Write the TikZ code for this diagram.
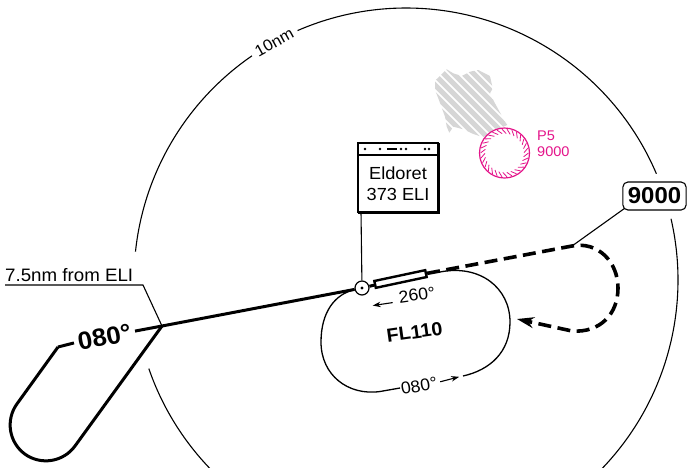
\documentclass[tikz,border=0pt]{standalone}
\usepackage{fontspec}
\setmainfont{Liberation Sans}[FakeStretch=1.04]
\usepackage{tikz}
\usetikzlibrary{arrows.meta, positioning, calc}
\definecolor{prohib}{RGB}{228,20,138}
\definecolor{hatchgray}{RGB}{214,214,214}
\newcommand{\fs}[2]{\fontsize{#1}{#2}\selectfont}

\begin{document}
\begin{tikzpicture}[x=1pt, y=-1pt,
    thinline/.style={line width=1.1pt},
    track/.style={line width=3pt, line join=round},
    holdpath/.style={line width=1.3pt},
    outbound/.style={line width=3.6pt, dash pattern=on 13pt off 6.5pt},
    dirarrow/.style={line width=1.1pt, -{Stealth[length=8pt, width=5.5pt]}},
    lbl/.style={inner sep=0pt, font=\fs{17}{17}}
]
\useasboundingbox (0,0) rectangle (688,467);
\clip (0,0) rectangle (688,467);

% 10nm ring
\coordinate (ctr) at (406,280);
\draw[thinline] (ctr) ++(44:272) arc[start angle=44, end angle=-13, radius=272];
\draw[thinline] (ctr) ++(-23:272) arc[start angle=-23, end angle=-113.5, radius=272];
\draw[thinline] (ctr) ++(-124.5:272) arc[start angle=-124.5, end angle=-174, radius=272];
\draw[thinline] (ctr) ++(-199:272) arc[start angle=-199, end angle=-226, radius=272];
\node[lbl, font=\fs{16}{16}, rotate=29] (ringlbl) at ($(ctr)+(-119:272)$) {10nm};

% hatched area
\begin{scope}
    \clip (435,80.7) -- (446.7,69.3) -- (453.3,73.3) -- (461.7,76) -- (470,71.7)
        -- (478.3,70) -- (490,76) -- (492.7,88.3) -- (490,93.3) -- (495,103.3)
        -- (505,121.7) -- (507.3,125) -- (491.7,131.7) -- (483.3,137.3)
        -- (473.3,134) -- (463.3,129.3) -- (453.3,126.7) -- (449.3,132.7)
        -- (446.7,126.7) -- (445,116.7) -- (438.3,98.3) -- (435,90) -- cycle;
    \foreach \k in {-130,-120,...,110}
        \draw[line width=5pt, hatchgray] (420+\k,60) -- (520+\k,160);
\end{scope}

% prohibited area P5
\node[circle, draw=prohib, line width=1.2pt, fill=white, minimum size=50pt, inner sep=0pt] (p5) at (504.5,153) {};
\foreach \a in {0,12,...,348}
    \draw[prohib, line width=0.8pt] ($(p5.center)+(\a:24)$) -- ($(p5.center)+(\a+11:19.5)$);
\node[anchor=north west, align=left, text=prohib, font=\fs{14}{16}, inner sep=0pt] (p5lbl) at (537,131) {P5\\9000};

% VOR and ident box
\node[circle, draw, line width=1.2pt, fill=white, minimum size=14pt, inner sep=0pt] (eli) at (362,288) {};
\fill (eli.center) circle (1.6pt);
\node[draw, line width=1.2pt, fill=white, minimum width=80pt, minimum height=57pt, outer sep=0pt,
      inner sep=0pt, align=center, font=\fs{17.5}{21.5}] (elibox) at (398,183.5) {Eldoret\\373 ELI};
\node[draw, line width=1.2pt, fill=white, minimum width=80pt, minimum height=12pt, outer sep=0pt,
      inner sep=0pt, anchor=south] (morse) at (elibox.north) {};
\draw[line width=2.6pt] ([shift={(0.7,0)}]morse.north east) -- ([shift={(0.7,0.7)}]elibox.south east)
    -- ([shift={(0,0.7)}]elibox.south west);
\foreach \mx in {-33,-18,3,8,27,31}
    \fill ($(morse.center)+(\mx,0)$) circle (1.4pt);
\draw[line width=2pt] ($(morse.center)+(-11,0)$) -- ($(morse.center)+(-1,0)$);
\draw[thinline] ([xshift=3pt]elibox.south west) -- (eli);

% holding over ELI
\draw[holdpath] (440,272) .. controls (480,264) and (510,288) .. (510,322)
    .. controls (510,352) and (490,370) .. (463,376);
\draw[holdpath] (400,388) -- (380,391.5) .. controls (348,396) and (321,375) .. (321,342)
    .. controls (321,312) and (335,294) .. (eli);
\node[lbl, rotate=8] (inbd) at (417,295) {260°};
\draw[dirarrow] ([shift={(-6,5)}]inbd.west) -- ++(-20,3);
\node[lbl, rotate=10] (outbd) at (419,386) {080°};
\draw[dirarrow] ([shift={(3,-1)}]outbd.east) -- ++(19,-5);
\node[lbl, font=\bfseries\fs{19}{19}, rotate=8] (lvl) at (414.5,332) {FL110};

% inbound track and lead
\coordinate (fix) at (162,326);
\draw[track] (fix) -- (eli);
\node[draw, line width=2.4pt, fill=white, minimum width=52pt, minimum height=7pt, inner sep=0pt, rotate=12] (lead) at (400.5,279) {};
\draw[track] (eli) -- (lead);

% outbound to 9000
\coordinate (turntop) at (572,246);
\coordinate (backtip) at (517,319);
\draw[outbound, -{Stealth[length=17pt, width=11pt]}] (lead.east) -- (turntop)
    .. controls (598,241) and (618,262) .. (618,288)
    .. controls (618,314) and (600,333) .. (572,331) -- (backtip);
\node[draw, rounded corners=5pt, line width=1.1pt, fill=white, minimum height=28pt,
      inner xsep=5pt, font=\bfseries\fs{23}{23}] (alt) at (654.5,196) {9000};
\draw[thinline] ([shift={(2,-2)}]alt.south west) -- (turntop);

% holding at 7.5nm fix
\coordinate (hookend) at (58,347);
\node[lbl, font=\bfseries\fs{25}{25}, rotate=11, inner sep=4pt] (holdcrs) at (104.5,337) {080°};
\draw[track, rounded corners=36pt] (fix) -- (53.9,475.1) -- (-4.1,433.1) -- (hookend);
\draw[track] (hookend) -- (holdcrs.west);
\draw[track] (holdcrs.east) -- (fix);
\node[lbl, anchor=base west, font=\fs{18}{18}] (fixlbl) at (5,281.5) {7.5nm from ELI};
\coordinate (lblkink) at (143,285);
\draw[thinline] (fixlbl.base west |- lblkink) -- (lblkink) -- (fix);
\end{tikzpicture}
\end{document}
